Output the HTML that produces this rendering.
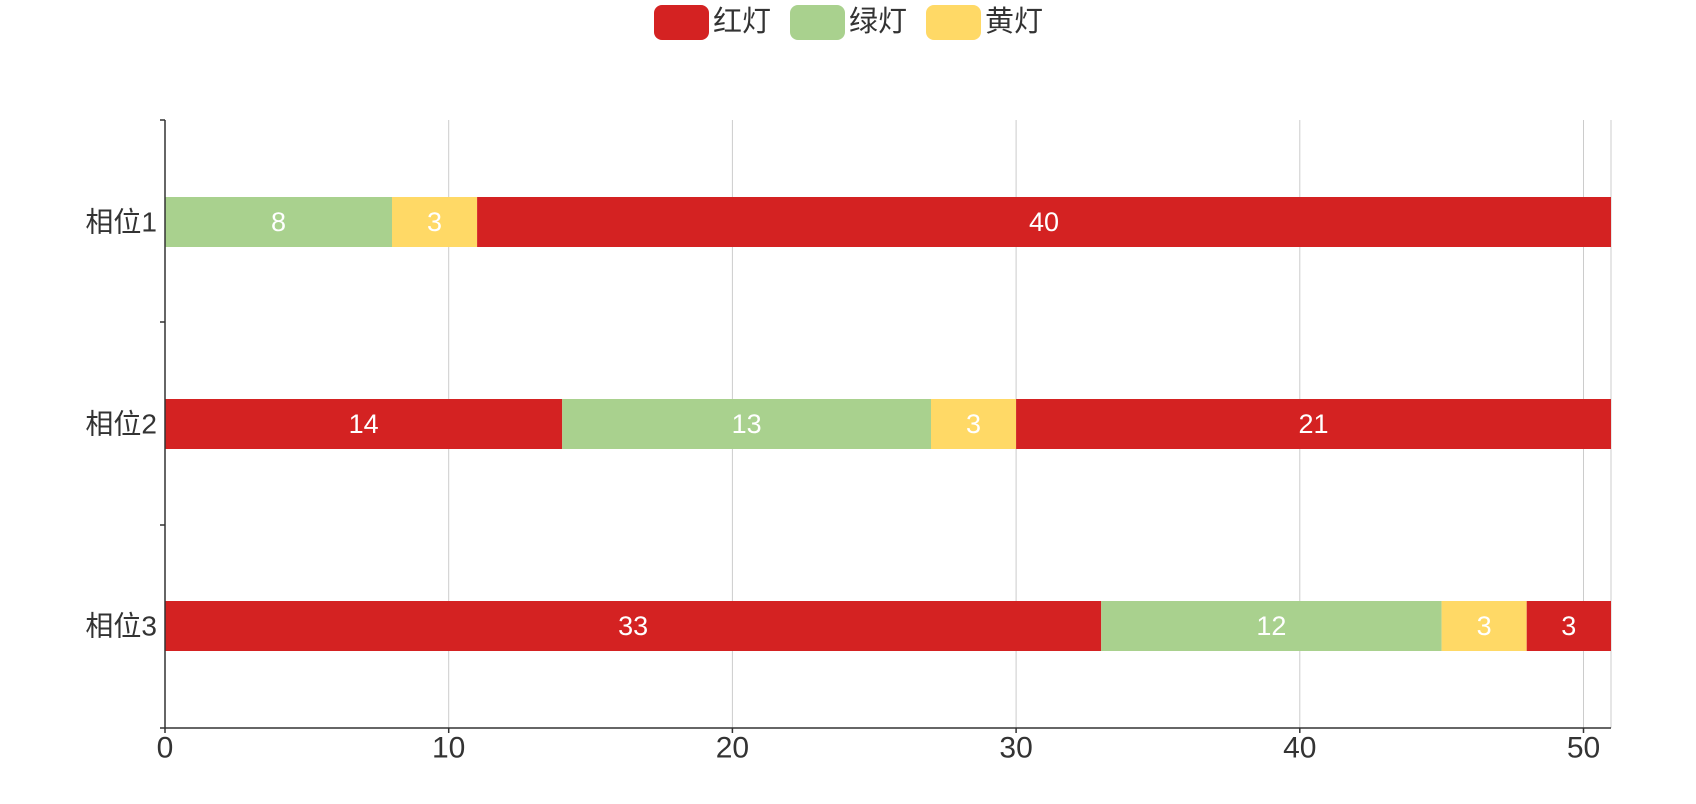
<!DOCTYPE html>
<html><head><meta charset="utf-8"><style>
html,body{margin:0;padding:0;background:#fff;}
svg{display:block;font-family:"Liberation Sans","Noto Sans CJK SC",sans-serif;}
</style></head><body>
<svg width="1696" height="804" xmlns="http://www.w3.org/2000/svg">
<g stroke="#cccccc" stroke-width="1">
<line x1="448.7" y1="120" x2="448.7" y2="728"/>
<line x1="732.4" y1="120" x2="732.4" y2="728"/>
<line x1="1016.1" y1="120" x2="1016.1" y2="728"/>
<line x1="1299.8" y1="120" x2="1299.8" y2="728"/>
<line x1="1583.5" y1="120" x2="1583.5" y2="728"/>
<line x1="1611" y1="120" x2="1611" y2="728"/>
</g>
<g>
<rect x="165" y="197" width="227" height="50" fill="#a9d18e"/>
<rect x="392" y="197" width="85.1" height="50" fill="#ffd966"/>
<rect x="477.1" y="197" width="1133.9" height="50" fill="#d42222"/>
<rect x="165" y="399" width="397.2" height="50" fill="#d42222"/>
<rect x="562.2" y="399" width="368.8" height="50" fill="#a9d18e"/>
<rect x="931" y="399" width="85.1" height="50" fill="#ffd966"/>
<rect x="1016.1" y="399" width="594.9" height="50" fill="#d42222"/>
<rect x="165" y="601" width="936.2" height="50" fill="#d42222"/>
<rect x="1101.2" y="601" width="340.4" height="50" fill="#a9d18e"/>
<rect x="1441.6" y="601" width="85.1" height="50" fill="#ffd966"/>
<rect x="1526.7" y="601" width="84.3" height="50" fill="#d42222"/>
</g>
<g fill="#fff" font-size="27" text-anchor="middle" dominant-baseline="central">
<text x="278.5" y="222">8</text>
<text x="434.5" y="222">3</text>
<text x="1044" y="222">40</text>
<text x="363.6" y="424">14</text>
<text x="746.6" y="424">13</text>
<text x="973.5" y="424">3</text>
<text x="1313.5" y="424">21</text>
<text x="633.1" y="626">33</text>
<text x="1271.4" y="626">12</text>
<text x="1484.1" y="626">3</text>
<text x="1568.8" y="626">3</text>
</g>
<g stroke="#333" stroke-width="1.5">
<line x1="165" y1="120" x2="165" y2="728"/>
<line x1="160" y1="728" x2="1611" y2="728"/>
<line x1="160" y1="120" x2="165" y2="120"/>
<line x1="160" y1="322" x2="165" y2="322"/>
<line x1="160" y1="525" x2="165" y2="525"/>
<line x1="165" y1="728" x2="165" y2="733"/>
<line x1="448.7" y1="728" x2="448.7" y2="733"/>
<line x1="732.4" y1="728" x2="732.4" y2="733"/>
<line x1="1016.1" y1="728" x2="1016.1" y2="733"/>
<line x1="1299.8" y1="728" x2="1299.8" y2="733"/>
<line x1="1583.5" y1="728" x2="1583.5" y2="733"/>
</g>
<g fill="#333" font-size="30" text-anchor="middle" dominant-baseline="central">
<text x="165" y="748">0</text>
<text x="448.7" y="748">10</text>
<text x="732.4" y="748">20</text>
<text x="1016.1" y="748">30</text>
<text x="1299.8" y="748">40</text>
<text x="1583.5" y="748">50</text>
</g>
<g fill="#333" font-size="28" text-anchor="end" dominant-baseline="central">
<text x="157" y="222">相位1</text>
<text x="157" y="424">相位2</text>
<text x="157" y="626">相位3</text>
</g>
<rect x="654" y="5" width="55" height="35" rx="8" fill="#d42222"/>
<rect x="790" y="5" width="55" height="35" rx="8" fill="#a9d18e"/>
<rect x="926" y="5" width="55" height="35" rx="8" fill="#ffd966"/>
<g fill="#333" font-size="29" dominant-baseline="central">
<text x="713" y="22">红灯</text>
<text x="849" y="22">绿灯</text>
<text x="985" y="22">黄灯</text>
</g>
</svg>
</body></html>
